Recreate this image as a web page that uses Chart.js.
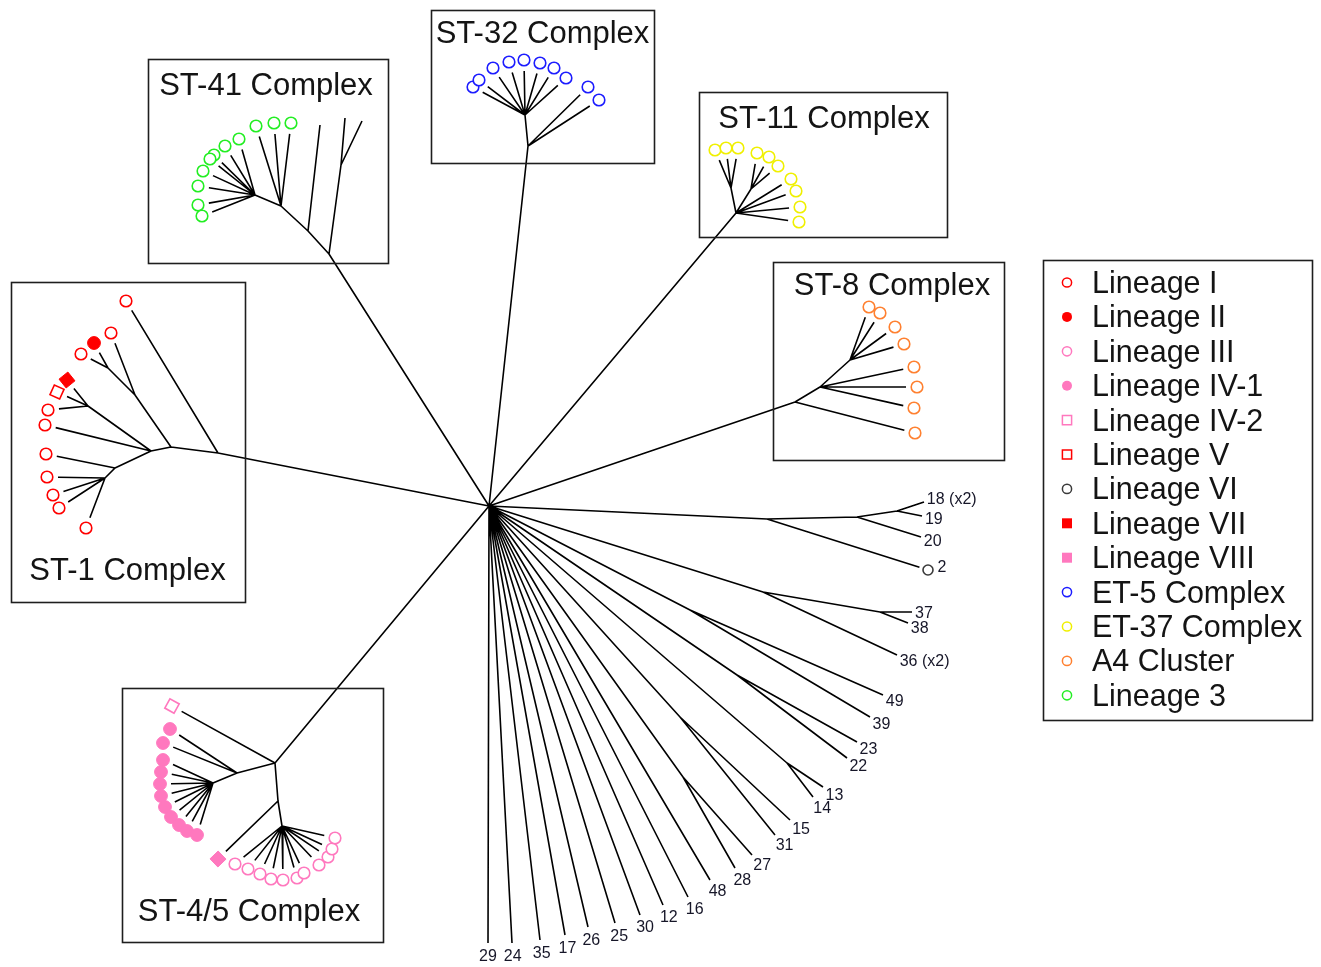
<!DOCTYPE html>
<html lang="en">
<head>
<meta charset="utf-8">
<title>Clonal complexes – unrooted tree</title>
<script src="https://cdn.jsdelivr.net/npm/chart.js@4.4.1/dist/chart.umd.min.js"></script>
<style>
  html, body { margin: 0; padding: 0; background: #ffffff; }
  #frame { position: relative; width: 1321px; height: 967px; }
</style>
</head>
<body>
<div id="frame"><canvas id="tree"></canvas></div>
<script>
// ---------------- data ----------------

// Isolate groups (legend order)
const lineageNames = [
  'Lineage I', 'Lineage II', 'Lineage III', 'Lineage IV-1', 'Lineage IV-2',
  'Lineage V', 'Lineage VI', 'Lineage VII', 'Lineage VIII',
  'ET-5 Complex', 'ET-37 Complex', 'A4 Cluster', 'Lineage 3'
];

// Internal nodes of the unrooted tree: [id, parent id, x, y] (layout units)
const innerNodes = [
  ['root', null, 489, 506],
  // ST-41 complex
  ['a41', 'root', 329, 254],
  ['b41', 'a41', 341, 165],
  ['c41', 'a41', 308, 231],
  ['d41', 'c41', 281, 206],
  ['e41', 'd41', 255, 195],
  // ST-32 complex
  ['a32', 'root', 528, 146],
  ['b32', 'a32', 525, 115],
  // ST-11 complex
  ['a11', 'root', 736, 213],
  ['b11', 'a11', 731, 188],
  ['c11', 'a11', 751, 189],
  // ST-8 complex
  ['a8', 'root', 795, 402],
  ['b8', 'a8', 820, 387],
  ['c8', 'b8', 850, 360],
  // ST-1 complex
  ['a1', 'root', 218, 453],
  ['b1', 'a1', 171, 447],
  ['c1', 'b1', 135, 395],
  ['d1', 'c1', 108, 368],
  ['e1', 'b1', 151, 451],
  ['f1', 'e1', 88, 406],
  ['g1', 'e1', 115, 468],
  ['h1', 'g1', 105, 478],
  // ST-4/5 complex
  ['a45', 'root', 275, 763],
  ['b45', 'a45', 237, 773],
  ['c45', 'b45', 213, 783],
  ['d45', 'a45', 278, 801],
  ['e45', 'd45', 282, 826],
  // unassigned sequence types
  ['s1', 'root', 767, 519],
  ['s2', 's1', 857, 517],
  ['s3', 's2', 897, 511],
  ['s4', 'root', 763, 592],
  ['s5', 's4', 880, 612],
  ['s6', 'root', 690, 610],
  ['s7', 'root', 737, 675],
  ['s8', 'root', 680, 717],
  ['s9', 'root', 787, 763],
  ['s10', 'root', 683, 777]
];

// Typed isolates: [parent id, x, y, lineage index]
const st41Tips = [
  ['d41', 256, 126, 12], ['d41', 274, 123, 12], ['d41', 291, 123, 12],
  ['e41', 239, 139, 12], ['e41', 225, 146, 12], ['e41', 214, 155, 12],
  ['e41', 210, 159, 12], ['e41', 203, 171, 12], ['e41', 198, 186, 12],
  ['e41', 198, 205, 12], ['e41', 202, 216, 12]
];
const st32Tips = [
  ['b32', 473, 87, 9], ['b32', 479, 80, 9], ['b32', 493, 68, 9], ['b32', 509, 62, 9],
  ['b32', 524, 60, 9], ['b32', 540, 63, 9], ['b32', 554, 68, 9], ['b32', 566, 78, 9],
  ['a32', 588, 87, 9], ['a32', 599, 100, 9]
];
const st11Tips = [
  ['b11', 715, 150, 10], ['b11', 726, 148, 10], ['b11', 738, 148, 10],
  ['c11', 757, 153, 10], ['c11', 769, 157, 10], ['c11', 778, 166, 10],
  ['a11', 791, 179, 10], ['a11', 796, 191, 10], ['a11', 800, 207, 10], ['a11', 799, 222, 10]
];
const st8Tips = [
  ['a8', 915, 433, 11],
  ['b8', 914, 367, 11], ['b8', 917, 387, 11], ['b8', 914, 408, 11],
  ['c8', 869, 307, 11], ['c8', 880, 313, 11], ['c8', 895, 327, 11], ['c8', 904, 344, 11]
];
const st1Tips = [
  ['a1', 126, 301, 0],
  ['c1', 111, 333, 0],
  ['d1', 94, 343, 1], ['d1', 81, 354, 0],
  ['f1', 67, 380, 7], ['f1', 57, 392, 5], ['f1', 48, 410, 0],
  ['e1', 45, 425, 0],
  ['g1', 46, 454, 0],
  ['h1', 47, 477, 0], ['h1', 53, 495, 0], ['h1', 59, 508, 0], ['h1', 86, 528, 0]
];
const st45Tips = [
  ['a45', 172, 706, 4],
  ['b45', 170, 729, 3], ['b45', 163, 743, 3],
  ['c45', 163, 760, 3], ['c45', 161, 772, 3], ['c45', 160, 784, 3], ['c45', 161, 796, 3],
  ['c45', 165, 807, 3], ['c45', 171, 817, 3], ['c45', 179, 825, 3], ['c45', 187, 831, 3],
  ['c45', 197, 835, 3],
  ['d45', 218, 859, 8],
  ['e45', 235, 864, 2], ['e45', 248, 869, 2], ['e45', 260, 874, 2], ['e45', 271, 879, 2],
  ['e45', 283, 880, 2], ['e45', 297, 878, 2], ['e45', 304, 873, 2], ['e45', 319, 865, 2],
  ['e45', 328, 857, 2], ['e45', 332, 849, 2], ['e45', 335, 838, 2]
];

// Terminal branches without an isolate symbol: [parent id, x, y]
const bareTips = [
  ['b41', 345, 118], ['b41', 362, 121], ['c41', 320, 125]
];

// Sequence types outside the named complexes: [parent id, x, y, label, lineage index or -1]
const singletonTips = [
  ['s3', 924, 502, '18 (x2)', -1], ['s3', 922, 516, '19', -1], ['s2', 921, 537, '20', -1],
  ['s1', 928, 570, '2', 6],
  ['s5', 912, 612, '37', -1], ['s5', 908, 623, '38', -1], ['s4', 897, 655, '36 (x2)', -1],
  ['s6', 883, 695, '49', -1], ['s6', 870, 717, '39', -1],
  ['s7', 857, 742, '23', -1], ['s7', 847, 758, '22', -1],
  ['s9', 823, 787, '13', -1], ['s9', 813, 797, '14', -1],
  ['s8', 790, 820, '15', -1], ['s8', 775, 835, '31', -1],
  ['s10', 752, 855, '27', -1], ['s10', 735, 868, '28', -1],
  ['root', 710, 880, '48', -1], ['root', 688, 897, '16', -1], ['root', 663, 905, '12', -1],
  ['root', 640, 915, '30', -1], ['root', 615, 923, '25', -1], ['root', 588, 927, '26', -1],
  ['root', 565, 935, '17', -1], ['root', 540, 940, '35', -1], ['root', 512, 943, '24', -1],
  ['root', 488, 943, '29', -1]
];

// Named clonal complexes
const complexNames = ['ST-41 Complex', 'ST-32 Complex', 'ST-11 Complex', 'ST-8 Complex', 'ST-1 Complex', 'ST-4/5 Complex'];

// ---------------- styling & layout ----------------

const FONT = '"Liberation Sans", Arial, Helvetica, sans-serif';
const PINK = '#ff78be';
const lineageLook = [
  { color: '#ff0000', shape: 'circle', filled: false },
  { color: '#ff0000', shape: 'circle', filled: true },
  { color: PINK,      shape: 'circle', filled: false },
  { color: PINK,      shape: 'circle', filled: true },
  { color: PINK,      shape: 'rect',   filled: false },
  { color: '#ff0000', shape: 'rect',   filled: false },
  { color: '#3a3a3a', shape: 'circle', filled: false },
  { color: '#ff0000', shape: 'rect',   filled: true },
  { color: PINK,      shape: 'rect',   filled: true },
  { color: '#1c1cff', shape: 'circle', filled: false },
  { color: '#f0f000', shape: 'circle', filled: false },
  { color: '#ff8030', shape: 'circle', filled: false },
  { color: '#22ee22', shape: 'circle', filled: false }
];

// frames around each complex (same order as complexNames), with title anchor
const complexFrames = [
  { l: 148.5, t: 59.5, r: 388.5, b: 263.5, tx: 266, ty: 95 },
  { l: 431.5, t: 10.5, r: 654.5, b: 163.5, tx: 542.5, ty: 43 },
  { l: 699.5, t: 92.5, r: 947.5, b: 237.5, tx: 824, ty: 128 },
  { l: 773.5, t: 262.5, r: 1004.5, b: 460.5, tx: 892, ty: 295 },
  { l: 11.5, t: 282.5, r: 245.5, b: 602.5, tx: 127.5, ty: 580 },
  { l: 122.5, t: 688.5, r: 383.5, b: 942.5, tx: 249, ty: 921 }
];
const legendFrame = { l: 1043.5, t: 260.5, r: 1312.5, b: 720.5, markerX: 1067, textX: 1092, firstBaseline: 293, step: 34.4 };

// ---------------- build datasets ----------------

const nodeById = {};
innerNodes.forEach(n => { nodeById[n[0]] = { x: n[2], y: n[3] }; });

function trimmed(p, q, gap) {
  const dx = q.x - p.x, dy = q.y - p.y, len = Math.hypot(dx, dy);
  const k = Math.max(0, (len - gap) / len);
  return { x: p.x + dx * k, y: p.y + dy * k };
}

const branchData = [];
function pushBranch(p, q) {
  branchData.push({ x: p.x, y: p.y }, { x: q.x, y: q.y }, { x: null, y: null });
}

innerNodes.forEach(n => { if (n[1] !== null) pushBranch(nodeById[n[1]], nodeById[n[0]]); });

const typedTips = [...st41Tips, ...st32Tips, ...st11Tips, ...st8Tips, ...st1Tips, ...st45Tips];
typedTips.forEach(t => {
  const p = nodeById[t[0]];
  pushBranch(p, trimmed(p, { x: t[1], y: t[2] }, 11));
});
bareTips.forEach(t => pushBranch(nodeById[t[0]], { x: t[1], y: t[2] }));
singletonTips.forEach(t => {
  const p = nodeById[t[0]], q = { x: t[1], y: t[2] };
  pushBranch(p, t[4] >= 0 ? trimmed(p, q, 9) : q);
});

const symbolTips = typedTips.concat(singletonTips.filter(t => t[4] >= 0).map(t => [t[0], t[1], t[2], t[4]]));

const markerSets = lineageNames.map((name, li) => {
  const look = lineageLook[li];
  const pts = symbolTips.filter(t => t[3] === li).map(t => {
    const p = nodeById[t[0]];
    return { x: t[1], y: t[2], px: p.x, py: p.y };
  });
  let radius;
  if (look.shape === 'rect') radius = look.filled ? 8 : 7.5;
  else if (li === 6) radius = 5;
  else radius = look.filled ? 6.4 : 5.8;
  return {
    label: name,
    data: pts,
    order: 0,
    pointStyle: look.shape,
    pointRadius: radius,
    pointHoverRadius: radius,
    pointBorderWidth: look.filled ? 1 : 1.6,
    pointBorderColor: look.color,
    pointBackgroundColor: look.filled ? look.color : '#ffffff',
    pointRotation: c => (look.shape === 'rect' && c.raw)
      ? Math.atan2(c.raw.y - c.raw.py, c.raw.x - c.raw.px) * 180 / Math.PI : 0
  };
});

const branchSet = {
  label: 'branches',
  data: branchData,
  showLine: true,
  spanGaps: false,
  borderColor: '#000000',
  borderWidth: 1.6,
  pointRadius: 0,
  pointHoverRadius: 0,
  order: 10
};

// ---------------- drawing helpers ----------------

function drawSymbol(ctx, look, x, y) {
  ctx.save();
  ctx.lineWidth = 1.5;
  ctx.strokeStyle = look.color;
  ctx.fillStyle = look.color;
  ctx.beginPath();
  if (look.shape === 'circle') ctx.arc(x, y, look.filled ? 5 : 4.6, 0, Math.PI * 2);
  else { const h = look.filled ? 5 : 4.6; ctx.rect(x - h, y - h, 2 * h, 2 * h); }
  if (look.filled) ctx.fill(); else ctx.stroke();
  ctx.restore();
}

const decorPlugin = {
  id: 'treeDecor',
  afterDatasetsDraw(chart) {
    const ctx = chart.ctx;
    const xs = chart.scales.x, ys = chart.scales.y;
    const X = v => xs.getPixelForValue(v), Y = v => ys.getPixelForValue(v);
    ctx.save();

    // complex frames and titles
    ctx.strokeStyle = '#1e1e1e';
    ctx.lineWidth = 1.6;
    ctx.fillStyle = '#141414';
    ctx.font = '31px ' + FONT;
    ctx.textAlign = 'center';
    ctx.textBaseline = 'alphabetic';
    complexFrames.forEach((f, i) => {
      ctx.strokeRect(X(f.l), Y(f.t), X(f.r) - X(f.l), Y(f.b) - Y(f.t));
      ctx.fillText(complexNames[i], X(f.tx), Y(f.ty));
    });

    // labels of sequence types outside the complexes
    ctx.font = '16px ' + FONT;
    ctx.fillStyle = '#161628';
    singletonTips.forEach(t => {
      const p = nodeById[t[0]];
      const ex = X(t[1]), ey = Y(t[2]);
      const w = ctx.measureText(t[3]).width;
      let cx, cy;
      if (t[4] >= 0) {
        cx = ex + 9.5 + w / 2;
        cy = ey - 4;
      } else {
        const th = Math.atan2(ey - Y(p.y), ex - X(p.x));
        const down = Math.max(0, Math.min(0.5, 2 * th / Math.PI - 0.5));
        cx = ex + 3 * Math.cos(th) + w / 2 - w * down;
        cy = ey + 12.5 * Math.sin(th);
      }
      ctx.fillText(t[3], cx, cy + 5.7);
    });

    // legend
    const L = legendFrame;
    ctx.strokeRect(X(L.l), Y(L.t), X(L.r) - X(L.l), Y(L.b) - Y(L.t));
    ctx.font = '30.5px ' + FONT;
    ctx.textAlign = 'left';
    ctx.fillStyle = '#141414';
    lineageNames.forEach((name, i) => {
      const base = L.firstBaseline + i * L.step;
      drawSymbol(ctx, lineageLook[i], X(L.markerX), Y(base - 10.5));
      ctx.fillText(name, X(L.textX), Y(base));
    });

    ctx.restore();
  }
};

new Chart(document.getElementById('tree'), {
  type: 'scatter',
  data: { datasets: [...markerSets, branchSet] },
  options: {
    responsive: true,
    maintainAspectRatio: false,
    animation: false,
    events: [],
    layout: { padding: 0, autoPadding: false },
    scales: {
      x: { type: 'linear', min: 0, max: 1321, display: false },
      y: { type: 'linear', min: 0, max: 967, reverse: true, display: false }
    },
    plugins: {
      legend: { display: false },
      tooltip: { enabled: false }
    }
  },
  plugins: [decorPlugin]
});
</script>
</body>
</html>
